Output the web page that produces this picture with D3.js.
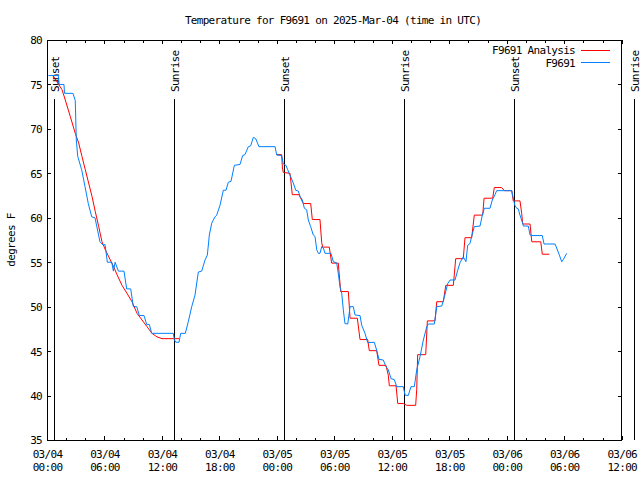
<!DOCTYPE html>
<html>
<head>
<meta charset="utf-8">
<script src="https://cdn.jsdelivr.net/npm/d3@7/dist/d3.min.js"></script>
<style>
  body { margin: 0; background: #fff; }
  svg text { font-family: "DejaVu Sans Mono", "Liberation Mono", monospace; font-size: 11px; letter-spacing: -0.7px; fill: #000; }
</style>
</head>
<body>
<svg id="chart" width="640" height="480"></svg>
<script>
// ---------- data (hours since 2025-03-04 00:00 UTC) ----------
const titleText = "Temperature for F9691 on 2025-Mar-04 (time in UTC)";
const yLabel = "degrees F";
const seriesNames = ["F9691 Analysis", "F9691"];

const xTickHours = [0, 6, 12, 18, 24, 30, 36, 42, 48, 54, 60];
const xTickDates = ["03/04", "03/04", "03/04", "03/04", "03/05", "03/05", "03/05", "03/05", "03/06", "03/06", "03/06"];
const xTickTimes = ["00:00", "06:00", "12:00", "18:00", "00:00", "06:00", "12:00", "18:00", "00:00", "06:00", "12:00"];
const yTicks = [35, 40, 45, 50, 55, 60, 65, 70, 75, 80];

const sunEventHours = [0.77, 13.29, 24.78, 37.30, 48.79, 61.32];
const sunEventLabels = ["Sunset", "Sunrise", "Sunset", "Sunrise", "Sunset", "Sunrise"];

// Analysis series (red); null marks the gap
const analysisHours = [
  0.63, 1.04, 1.57, 1.91, 2.43, 2.95, 3.31, 3.65, 4.00, 4.35, 4.70, 5.04, 5.40, 5.74, 6.09,
  6.61, 6.96, 7.31, 7.83, 8.35, 8.87, 9.40, 9.92, 10.44, 10.96, 11.48, 12.01, 13.23, 13.78,
  18.0,
  23.98, 24.50, 24.58, 24.67, 25.37, 25.61, 26.31, 26.76, 27.53, 27.70, 28.50, 28.68, 28.78,
  29.47, 29.72, 30.41, 30.66, 31.46, 31.64, 32.40, 32.68, 33.48, 33.65, 34.42, 34.66, 35.39,
  35.63, 35.74, 36.44, 36.62, 37.20, 37.56, 38.49, 38.60, 38.70, 39.54, 39.71, 40.51, 40.69,
  41.38, 41.63, 42.42, 42.67, 43.46, 43.64, 44.34, 44.61, 45.49, 45.63, 46.53, 46.70, 47.47,
  47.74, 48.52, 48.68, 49.38, 49.56, 49.66, 50.43, 50.61, 51.55, 51.71, 52.44
];
const analysisTemps = [
  76.0, 75.3, 74.4, 73.25, 71.4, 69.5, 68.4, 66.9, 65.4, 63.9, 62.4, 60.7, 59.0, 57.3, 56.4,
  55.25, 54.5, 53.6, 52.4, 51.5, 50.56, 49.25, 48.5, 47.75, 47.0, 46.6, 46.4, 46.4, 46.4,
  null,
  67.1, 67.1, 65.6, 65.1, 65.0, 62.6, 62.6, 61.6, 61.6, 59.8, 59.8, 57.2, 56.7,
  56.7, 54.9, 54.9, 51.7, 51.7, 48.7, 48.7, 46.3, 46.3, 45.05, 45.05, 43.4, 43.4,
  42.3, 41.1, 41.1, 39.1, 39.1, 38.9, 38.9, 40.7, 44.6, 44.6, 48.4, 48.4, 50.56,
  50.56, 52.4, 52.4, 55.4, 55.4, 57.76, 57.76, 60.3, 60.3, 62.2, 62.2, 63.4, 63.4,
  63.05, 63.05, 61.9, 61.9, 60.5, 59.3, 59.3, 57.3, 57.3, 55.9, 55.9
];

// Observed series (blue)
const obsHours = [
  0.15, 1.18, 1.25, 1.77, 1.83, 2.71, 2.95, 3.06, 3.21, 3.62, 3.97, 4.31, 4.67, 5.01, 5.53,
  5.88, 6.06, 6.30, 6.76, 6.93, 7.11, 7.45, 8.04, 8.32, 8.74, 9.01, 9.37, 9.64, 10.13, 10.41,
  10.68, 10.93, 13.19, 13.29, 13.44, 13.78, 13.96, 14.44, 14.75, 15.11, 15.45, 15.80, 16.15,
  16.50, 16.74, 16.95, 17.20, 17.54, 17.72, 18.06, 18.41, 18.69, 18.93, 19.21, 19.56, 20.15,
  20.43, 20.67, 21.02, 21.27, 21.54, 21.79, 22.13, 23.81, 23.98, 24.50, 24.67, 24.95, 25.13,
  25.37, 25.72, 25.97, 26.24, 26.42, 26.66, 26.87, 27.11, 27.28, 27.53, 27.80, 27.98, 28.16,
  28.33, 28.50, 28.68, 28.85, 29.03, 29.65, 29.89, 30.25, 30.41, 30.59, 30.77, 30.94, 31.11,
  31.40, 31.64, 31.98, 32.16, 32.68, 32.86, 33.20, 33.48, 34.17, 34.42, 34.66, 35.11, 35.39,
  35.63, 35.92, 36.26, 36.51, 37.20, 37.38, 37.72, 38.00, 38.35, 38.60, 38.95, 39.29, 39.65,
  39.81, 40.44, 40.69, 41.21, 41.49, 41.84, 42.08, 42.60, 42.88, 43.12, 43.46, 43.74, 43.92,
  44.16, 44.34, 44.61, 45.21, 45.45, 45.66, 46.25, 46.49, 46.77, 46.95, 48.52, 48.68, 48.85,
  49.03, 49.20, 49.38, 49.66, 49.73, 50.25, 50.43, 50.61, 51.71, 51.89, 53.04, 53.21, 53.49,
  53.74, 53.90, 54.26
];
const obsTemps = [
  76, 76, 75, 75, 74, 74, 73.2, 68.75, 66.9, 65.4, 63.5, 61.6, 60.1, 60, 57.3,
  56.9, 57, 55, 55, 54, 55, 54, 54, 52, 52, 50, 50, 49, 49, 48,
  48, 47, 47, 46.3, 46, 46, 47, 47, 48.3, 50, 51.3, 53.9, 54,
  55.25, 55.8, 58.06, 59.4, 60.1, 60.3, 61.4, 63.1, 63.1, 64, 64.1, 65.9, 66,
  67, 67.1, 68, 68.1, 69.05, 68.9, 68, 68, 67.06, 67, 66.05, 65.9, 65.4,
  64.8, 63.9, 63.1, 63, 62.4, 62, 61.07, 60.9, 59.75, 59, 58.06, 57.9, 56.4,
  56, 56, 56.75, 56.6, 56, 56, 55.06, 54.9, 53.75, 52.25, 51.5, 49.6, 48.1,
  48.05, 50, 50, 49.06, 49, 47.9, 47, 45.95, 46, 45.1, 44.07, 44, 43.25,
  42.9, 41.9, 41.8, 41, 41, 40.06, 40, 41, 41, 42.9, 44.4, 46.25, 47.75,
  48.05, 48.05, 50, 50.07, 51.1, 52.6, 53, 53, 54.1, 54.95, 55.6, 55.06, 56.9,
  57.1, 57.9, 59, 59.07, 60.3, 61.07, 61.07, 62, 62.6, 63.05, 63.05, 62.2, 61.4,
  61.07, 61, 60.3, 59.4, 59.07, 59.07, 58.06, 58, 58, 57.05, 57.05, 56.6, 55.8,
  55.06, 55.3, 56
];

// ---------- layout ----------
const svg = d3.select("#chart");
const mLeft = 47, mRight = 621.7, mTop = 40, mBottom = 440;
const x = d3.scaleLinear().domain([0, 60]).range([mLeft, mRight]);
const y = d3.scaleLinear().domain([35, 80]).range([mBottom, mTop]);
const RED = "#ff0000", BLUE = "#0080ff";

// title
svg.append("text").attr("x", 333).attr("y", 24).attr("text-anchor", "middle").text(titleText);

// y label
svg.append("text").attr("transform", "translate(15,240) rotate(-90)")
  .attr("text-anchor", "middle").text(yLabel);

const minorHours = d3.range(0, 61, 2).filter(h => h % 6 !== 0);

// bottom axis
const gB = svg.append("g").attr("transform", `translate(0,${mBottom})`)
  .call(d3.axisBottom(x).tickValues(xTickHours).tickSizeInner(-4).tickSizeOuter(0).tickPadding(0).tickFormat(() => ""));
gB.selectAll(".tick text").each(function(d, i) {
  const t = d3.select(this).attr("dy", null).attr("y", null);
  t.append("tspan").attr("x", 0).attr("y", 18).text(xTickDates[i]);
  t.append("tspan").attr("x", 0).attr("y", 31).text(xTickTimes[i]);
});
svg.append("g").attr("transform", `translate(0,${mBottom})`)
  .call(d3.axisBottom(x).tickValues(minorHours).tickSizeInner(-2.5).tickSizeOuter(0).tickFormat(() => ""));
// top axis (mirror)
svg.append("g").attr("transform", `translate(0,${mTop})`)
  .call(d3.axisTop(x).tickValues(xTickHours).tickSizeInner(-4).tickSizeOuter(0).tickFormat(() => ""));
svg.append("g").attr("transform", `translate(0,${mTop})`)
  .call(d3.axisTop(x).tickValues(minorHours).tickSizeInner(-2.5).tickSizeOuter(0).tickFormat(() => ""));
// left axis
const gL = svg.append("g").attr("transform", `translate(${mLeft},0)`)
  .call(d3.axisLeft(y).tickValues(yTicks).tickSizeInner(-4).tickSizeOuter(0).tickPadding(5).tickFormat(d3.format("d")));
gL.selectAll(".tick text").attr("dy", "0.36em");
// right axis (mirror)
svg.append("g").attr("transform", `translate(${mRight},0)`)
  .call(d3.axisRight(y).tickValues(yTicks).tickSizeInner(-4).tickSizeOuter(0).tickFormat(() => ""));

svg.selectAll(".domain").remove();
svg.selectAll(".tick line").attr("stroke", "#000").attr("shape-rendering", "crispEdges");
svg.selectAll("g").attr("font-family", null).attr("font-size", null);

// frame
svg.append("rect").attr("x", mLeft).attr("y", mTop).attr("width", mRight - mLeft).attr("height", mBottom - mTop)
  .attr("fill", "none").attr("stroke", "#000").attr("shape-rendering", "crispEdges");

// sunrise / sunset markers
sunEventHours.forEach((h, i) => {
  svg.append("line").attr("x1", x(h)).attr("x2", x(h)).attr("y1", 99).attr("y2", mBottom)
    .attr("stroke", "#000").attr("shape-rendering", "crispEdges");
  svg.append("text").attr("transform", `translate(${x(h) + 5},92) rotate(-90)`)
    .attr("text-anchor", "start").text(sunEventLabels[i]);
});

// series
const redData = analysisHours.map((h, i) => [h, analysisTemps[i]]);
const blueData = obsHours.map((h, i) => [h, obsTemps[i]]);
const line = d3.line().defined(d => d[1] !== null).x(d => x(d[0])).y(d => y(d[1]));
svg.append("path").datum(redData).attr("d", line).attr("fill", "none").attr("stroke", RED).attr("stroke-width", 1);
svg.append("path").datum(blueData).attr("d", line).attr("fill", "none").attr("stroke", BLUE).attr("stroke-width", 1);

// legend
const legendColors = [RED, BLUE];
seriesNames.forEach((name, i) => {
  const ly = 50 + i * 12.5;
  svg.append("text").attr("x", 575).attr("y", ly + 4).attr("text-anchor", "end").text(name);
  svg.append("line").attr("x1", 581).attr("x2", 610).attr("y1", ly).attr("y2", ly)
    .attr("stroke", legendColors[i]).attr("shape-rendering", "crispEdges");
});
</script>
</body>
</html>
